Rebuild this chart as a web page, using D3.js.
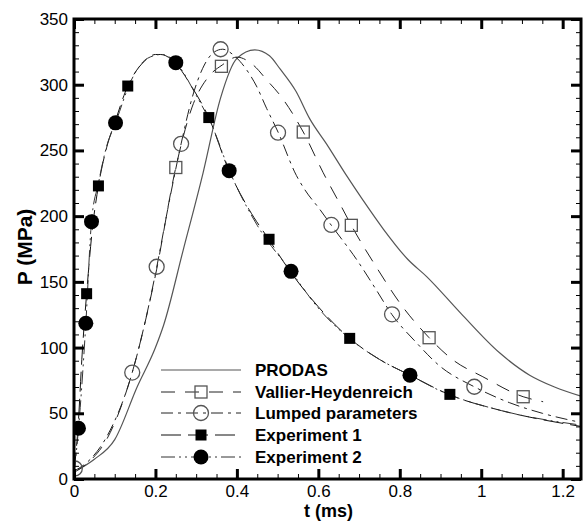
<!DOCTYPE html>
<html>
<head>
<meta charset="utf-8">
<script src="https://cdn.jsdelivr.net/npm/d3@7.9.0/dist/d3.min.js"></script>
<style>
  body { margin: 0; background: #fff; }
  svg { display: block; font-family: "Liberation Sans", Arial, sans-serif; }
  .tick text { font-size: 17px; fill: #000; }
</style>
</head>
<body>
<svg id="chart" width="584" height="525"></svg>
<script>
// --- data (t in ms, P in MPa) ---
const prodasLine = [[0.01,7],[0.05,15],[0.1,30],[0.155,70],[0.2,100],[0.22,117],[0.268,174],
  [0.317,233],[0.36,290],[0.4,320],[0.444,326.5],[0.48,322],[0.506,312],[0.545,295],[0.579,274],
  [0.62,255],[0.669,231],[0.71,212],[0.76,190],[0.82,167],[0.866,154],[0.95,126],[1.045,96],
  [1.119,79],[1.18,70],[1.245,63]];
const vallierLine = [[0.0,5],[0.04,14],[0.08,30],[0.14,78],[0.2,155],[0.25,237],[0.29,283],
  [0.33,306],[0.364,315],[0.4,321],[0.44,315],[0.475,303],[0.506,292],[0.563,264],[0.612,233],
  [0.657,207],[0.681,193],[0.747,159],[0.8,134],[0.872,107.5],[0.931,90.5],[1.004,77.8],
  [1.103,62.6],[1.152,58.8]];
const lumpedLine = [[0.0,6],[0.04,15],[0.08,32],[0.143,81],[0.175,120],[0.203,161],[0.23,205],
  [0.263,255],[0.29,290],[0.32,315],[0.345,325],[0.365,327],[0.39,323],[0.42,313],[0.448,299],
  [0.473,282],[0.501,264],[0.546,231],[0.567,220],[0.604,205],[0.632,193],[0.694,167],
  [0.74,145],[0.781,125],[0.84,104],[0.898,86],[0.984,70],[1.07,58],[1.15,50],[1.245,43]];
const exp1Line = [[0.0,5],[0.01,40],[0.02,95],[0.031,141],[0.045,190],[0.06,223],[0.08,252],
  [0.1,271],[0.132,299],[0.17,317],[0.2,323],[0.213,323],[0.25,316],[0.29,298],[0.331,275],
  [0.38,235],[0.43,205],[0.479,182],[0.533,157],[0.6,131],[0.677,107],[0.75,91],[0.825,79],
  [0.923,64],[1.05,52],[1.245,40]];
const exp2Line = [[0.0,4],[0.011,38],[0.029,118],[0.043,196],[0.06,225],[0.08,253],[0.102,271],
  [0.14,303],[0.18,320],[0.215,323],[0.25,317],[0.3,292],[0.34,268],[0.381,235],[0.45,193],
  [0.533,158],[0.6,130],[0.68,106],[0.75,91],[0.825,79],[0.9,67],[1.05,52],[1.245,41]];

const vallierMarks = [[0.25,237],[0.362,314],[0.563,264],[0.681,193],[0.872,107.5],[1.103,62.6]];
const lumpedMarks = [[0.002,8],[0.143,81],[0.203,161.5],[0.263,255],[0.36,327],[0.501,263.5],
  [0.632,193.3],[0.781,125.3],[0.983,70.2]];
const exp1Marks = [[0.031,141],[0.06,223],[0.132,299],[0.331,275],[0.479,182.4],[0.677,107],[0.923,64.4]];
const exp2Marks = [[0.011,38.6],[0.029,118.5],[0.043,195.8],[0.102,271],[0.25,316.8],[0.381,234.6],
  [0.533,158],[0.825,79]];

const xTicks = [0, 0.2, 0.4, 0.6, 0.8, 1, 1.2];
const yTicks = [0, 50, 100, 150, 200, 250, 300, 350];
const legendLabels = ['PRODAS', 'Vallier-Heydenreich', 'Lumped parameters', 'Experiment 1', 'Experiment 2'];

// --- series styling ---
const series = [
  { line: prodasLine, marks: [], marker: null, dash: null, color: '#555', width: 1.2 },
  { line: vallierLine, marks: vallierMarks, marker: 'openSquare', dash: '14,10', color: '#222', width: 1 },
  { line: lumpedLine, marks: lumpedMarks, marker: 'openCircle', dash: '12,5,3,5', color: '#222', width: 1 },
  { line: exp1Line, marks: exp1Marks, marker: 'filledSquare', dash: '20,7', color: '#111', width: 1 },
  { line: exp2Line, marks: exp2Marks, marker: 'filledCircle', dash: '14,4,2,4,2,4', color: '#333', width: 1 }
];

const margin = { top: 19, right: 3, bottom: 46, left: 74 };
const W = 584, H = 525;
const svg = d3.select('#chart');

const x = d3.scaleLinear().domain([0, 1.245]).range([margin.left, W - margin.right]);
const y = d3.scaleLinear().domain([0, 350]).range([H - margin.bottom, margin.top]);

svg.append('clipPath').attr('id', 'clip')
  .append('rect')
  .attr('x', margin.left).attr('y', margin.top)
  .attr('width', W - margin.left - margin.right)
  .attr('height', H - margin.top - margin.bottom);

const plot = svg.append('g').attr('clip-path', 'url(#clip)');
const lineGen = d3.line().x(d => x(d[0])).y(d => y(d[1])).curve(d3.curveMonotoneX);

// Markers drawn at (cx, cy)
function drawMarker(g, type, cx, cy) {
  if (type === 'openSquare') {
    g.append('rect').attr('x', cx - 6).attr('y', cy - 6).attr('width', 12).attr('height', 12)
      .attr('fill', 'none').attr('stroke', '#555').attr('stroke-width', 1.3);
  } else if (type === 'openCircle') {
    g.append('circle').attr('cx', cx).attr('cy', cy).attr('r', 7.5)
      .attr('fill', 'none').attr('stroke', '#555').attr('stroke-width', 1.3);
  } else if (type === 'filledSquare') {
    g.append('rect').attr('x', cx - 5.5).attr('y', cy - 5.5).attr('width', 11).attr('height', 11)
      .attr('fill', '#000');
  } else if (type === 'filledCircle') {
    g.append('circle').attr('cx', cx).attr('cy', cy).attr('r', 7.5).attr('fill', '#000');
  }
}

series.forEach(s => {
  plot.append('path')
    .attr('d', lineGen(s.line))
    .attr('fill', 'none')
    .attr('stroke', s.color)
    .attr('stroke-width', s.width)
    .attr('stroke-dasharray', s.dash);
});
series.forEach(s => {
  const g = plot.append('g');
  s.marks.forEach(d => drawMarker(g, s.marker, x(d[0]), y(d[1])));
});

// --- axes: inward ticks on all four sides ---
const minorX = d3.range(0, 1.2451, 0.05);
const minorY = d3.range(0, 351, 10);
const fmt = d3.format('~g');
const pBottom = H - margin.bottom, pLeft = margin.left, pRight = W - margin.right, pTop = margin.top;

function styleAxis(g, major) {
  g.select('.domain').remove();
  g.selectAll('.tick line').attr('stroke', '#000').attr('stroke-width', major ? 3 : 1);
}

// minor
svg.append('g').attr('transform', `translate(0,${pBottom})`)
  .call(d3.axisBottom(x).tickValues(minorX).tickSize(-5).tickFormat('')).call(g => styleAxis(g, false));
svg.append('g').attr('transform', `translate(0,${pTop})`)
  .call(d3.axisTop(x).tickValues(minorX).tickSize(-5).tickFormat('')).call(g => styleAxis(g, false));
svg.append('g').attr('transform', `translate(${pLeft},0)`)
  .call(d3.axisLeft(y).tickValues(minorY).tickSize(-5).tickFormat('')).call(g => styleAxis(g, false));
svg.append('g').attr('transform', `translate(${pRight},0)`)
  .call(d3.axisRight(y).tickValues(minorY).tickSize(-5).tickFormat('')).call(g => styleAxis(g, false));

// major
svg.append('g').attr('transform', `translate(0,${pBottom})`)
  .call(d3.axisBottom(x).tickValues(xTicks).tickSize(-10).tickPadding(6).tickFormat(fmt))
  .call(g => styleAxis(g, true));
svg.append('g').attr('transform', `translate(0,${pTop})`)
  .call(d3.axisTop(x).tickValues(xTicks).tickSize(-10).tickFormat(''))
  .call(g => styleAxis(g, true));
svg.append('g').attr('transform', `translate(${pLeft},0)`)
  .call(d3.axisLeft(y).tickValues(yTicks).tickSize(-10).tickPadding(6).tickFormat(fmt))
  .call(g => styleAxis(g, true));
svg.append('g').attr('transform', `translate(${pRight},0)`)
  .call(d3.axisRight(y).tickValues(yTicks).tickSize(-10).tickFormat(''))
  .call(g => styleAxis(g, true));

svg.selectAll('.tick text').attr('font-family', null).attr('font-size', null);

// frame
svg.append('rect')
  .attr('x', pLeft).attr('y', pTop)
  .attr('width', pRight - pLeft).attr('height', pBottom - pTop)
  .attr('fill', 'none').attr('stroke', '#000').attr('stroke-width', 3);

// axis titles
svg.append('text')
  .attr('x', (pLeft + pRight) / 2 + 1).attr('y', 517)
  .attr('text-anchor', 'middle')
  .attr('font-weight', 'bold').attr('font-size', 18)
  .text('t (ms)');
svg.append('text')
  .attr('transform', `translate(32,${(pTop + pBottom) / 2 - 2}) rotate(-90)`)
  .attr('text-anchor', 'middle')
  .attr('font-weight', 'bold').attr('font-size', 21)
  .text('P (MPa)');

// legend
const legend = svg.append('g');
const rowY = [370, 392, 413, 435, 457];
series.forEach((s, i) => {
  const ly = rowY[i];
  legend.append('line')
    .attr('x1', 161).attr('x2', 241).attr('y1', ly).attr('y2', ly)
    .attr('stroke', s.color).attr('stroke-width', s.width)
    .attr('stroke-dasharray', s.dash);
  if (s.marker) drawMarker(legend, s.marker, 201, ly);
  legend.append('text')
    .attr('x', 255).attr('y', ly + 6)
    .attr('font-weight', 'bold').attr('font-size', 17)
    .text(legendLabels[i]);
});
</script>
</body>
</html>
